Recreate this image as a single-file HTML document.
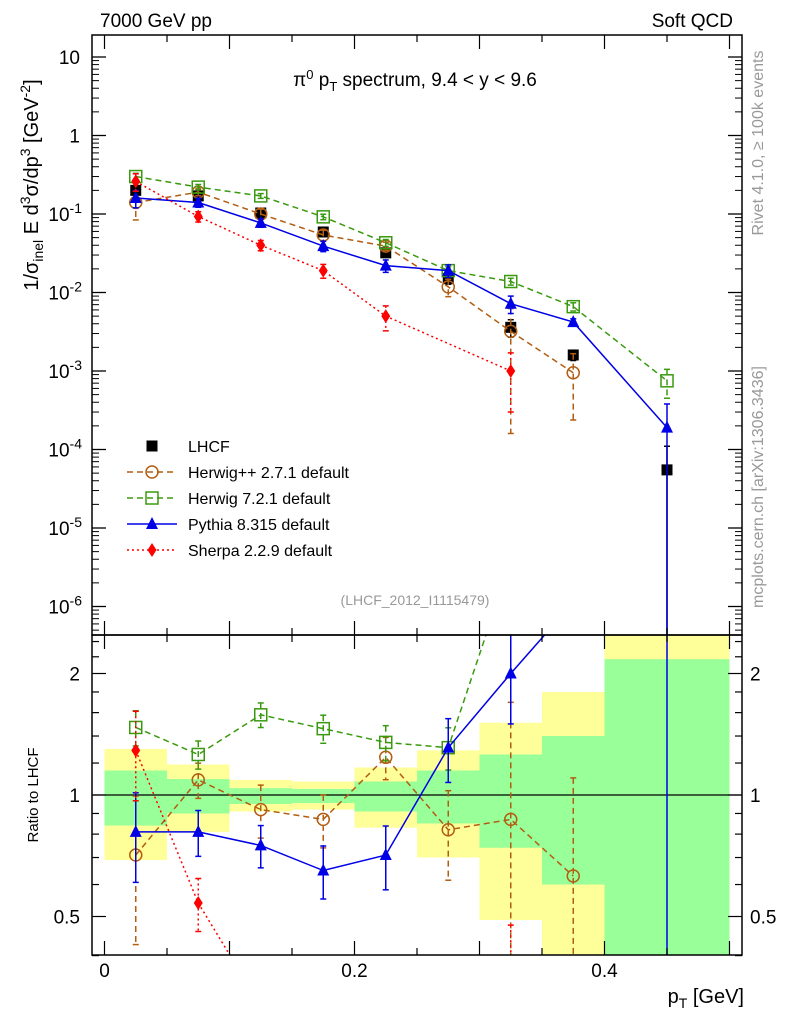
<!DOCTYPE html>
<html><head><meta charset="utf-8"><style>
html,body{margin:0;padding:0;background:#fff;overflow:hidden;width:786px;height:1024px;}
svg{display:block;overflow:hidden;}
svg text{font-family:"Liberation Sans",sans-serif;}
</style></head><body>
<svg id="c" width="786" height="1024" viewBox="0 0 786 1024" xmlns="http://www.w3.org/2000/svg">
<text x="100" y="27" font-size="19">7000 GeV pp</text>
<text x="733" y="27" font-size="19" text-anchor="end">Soft QCD</text>
<text x="415" y="86" font-size="19" text-anchor="middle">π<tspan dy="-7" font-size="13">0</tspan><tspan dy="7"> p</tspan><tspan dy="5" font-size="13">T</tspan><tspan dy="-5"> spectrum, 9.4 &lt; y &lt; 9.6</tspan></text>
<text transform="translate(763,143) rotate(-90)" font-size="16" fill="#999" text-anchor="middle">Rivet 4.1.0, ≥ 100k events</text>
<text transform="translate(763,487) rotate(-90)" font-size="16" fill="#999" text-anchor="middle">mcplots.cern.ch [arXiv:1306.3436]</text>
<text x="415" y="605" font-size="14" fill="#999" text-anchor="middle">(LHCF_2012_I1115479)</text>
<text transform="translate(38,185) rotate(-90)" font-size="20" text-anchor="middle">1/σ<tspan dy="5" font-size="14">inel</tspan><tspan dy="-5"> E d</tspan><tspan dy="-8" font-size="14">3</tspan><tspan dy="8">σ/dp</tspan><tspan dy="-8" font-size="14">3</tspan><tspan dy="8"> [GeV</tspan><tspan dy="-8" font-size="14">-2</tspan><tspan dy="8">]</tspan></text>
<text transform="translate(38,795) rotate(-90)" font-size="15" text-anchor="middle">Ratio to LHCF</text>
<text x="744" y="1003" font-size="20" text-anchor="end">p<tspan dy="5" font-size="14">T</tspan><tspan dy="-5"> [GeV]</tspan></text>
<g id="g"></g>
</svg>
<script>
const xCenters=[0.025,0.075,0.125,0.175,0.225,0.275,0.325,0.375,0.45];
const binEdges=[0,0.05,0.1,0.15,0.2,0.25,0.3,0.35,0.4,0.5];
const lhcf=[0.2,0.17,0.103,0.059,0.032,0.015,0.0036,0.0016,0.000055];
const yellowHi=[1.30,1.19,1.09,1.08,1.17,1.29,1.51,1.80,3.0];
const yellowLo=[0.69,0.81,0.91,0.92,0.83,0.70,0.49,0.3,0.3];
const greenHi=[1.15,1.095,1.04,1.035,1.08,1.15,1.26,1.40,2.17];
const greenLo=[0.84,0.90,0.95,0.955,0.91,0.85,0.74,0.60,0.3];
const herwigpp=[0.14,0.19,0.10,0.054,0.039,0.0118,0.0032,0.00095];
const herwigppRatio=[0.71,1.09,0.92,0.87,1.24,0.82,0.87,0.63];
const herwigppErr=[0.4,0.1,0.15,0.15,0.12,0.25,0.95,0.75];
const herwig7=[0.30,0.22,0.17,0.092,0.043,0.019,0.0138,0.0066,0.00075];
const herwig7Ratio=[1.47,1.26,1.58,1.46,1.35,1.31,3.8,4.1,13.6];
const herwig7Err=[0.1,0.08,0.07,0.08,0.1,0.12,0.1,0.12,0.4];
const pythia=[0.16,0.14,0.077,0.039,0.022,0.019,0.0072,0.0042,0.00019];
const pythiaRatio=[0.81,0.81,0.75,0.65,0.71,1.31,2.0,3.0,3.5];
const pythiaErr=[0.25,0.13,0.12,0.15,0.18,0.18,0.25,0.1,1.0];
const sherpa=[0.26,0.093,0.040,0.019,0.0050,0.00100];
const sherpaX=[0.025,0.075,0.125,0.175,0.225,0.325];
const sherpaRatio=[1.29,0.54,0.3,0.3,0.28,0.28];
const sherpaErr=[0.25,0.15,0.15,0.2,0.35,0.7];
const lhcfErr=[0.1,0.06,0.06,0.08,0.1,0.15,0.25,0.15,1.0];

const NS='http://www.w3.org/2000/svg';
const G=document.getElementById('g');
const L=92,R=742,T=35,M=635,B=955;
const clamp=(y,a,b)=>Math.min(b,Math.max(a,y));
const X=v=>104.5+v*1250;
const YM=v=>clamp(57+(1-Math.log10(Math.max(v,1e-12)))*78.5,T-20,M+2);
const YR=v=>clamp(795-Math.log2(Math.max(v,1e-6))*121.5,M-20,B+2);
function el(t,a,p){const e=document.createElementNS(NS,t);for(const k in a)e.setAttribute(k,a[k]);(p||G).appendChild(e);return e;}
const defs=el('defs',{});
const c1=el('clipPath',{id:'cm'},defs);el('rect',{x:L,y:T,width:R-L,height:M-T},c1);
const c2=el('clipPath',{id:'cr'},defs);el('rect',{x:L,y:M,width:R-L,height:B-M},c2);
const gm=el('g',{'clip-path':'url(#cm)'});


const gr=el('g',{'clip-path':'url(#cr)'});


for(let i=0;i<xCenters.length;i++){
  const x0=X(binEdges[i]),x1=X(binEdges[i+1]);
  const y=el('rect',{x:x0,y:YR(yellowHi[i]),width:x1-x0,height:YR(yellowLo[i])-YR(yellowHi[i]),fill:'#ffff99'},gr);
  
  
  const g=el('rect',{x:x0,y:YR(greenHi[i]),width:x1-x0,height:YR(greenLo[i])-YR(greenHi[i]),fill:'#99ff99'},gr);
  
  
}
el('line',{x1:L,x2:R,y1:YR(1),y2:YR(1),stroke:'#000','stroke-width':1.3},gr);
function marker(p,shape,x,y,col){
  if(shape==='circ')el('circle',{cx:x,cy:y,r:6,fill:'none',stroke:col,'stroke-width':1.5},p);
  else if(shape==='sq')el('rect',{x:x-6,y:y-6,width:12,height:12,fill:'none',stroke:col,'stroke-width':1.5},p);
  else if(shape==='tri')el('polygon',{points:`${x},${y-7} ${x-6},${y+5} ${x+6},${y+5}`,fill:col},p);
  else if(shape==='dia')el('polygon',{points:`${x},${y-7} ${x-4.5},${y} ${x},${y+7} ${x+4.5},${y}`,fill:col},p);
  else if(shape==='fsq')el('rect',{x:x-5.5,y:y-5.5,width:11,height:11,fill:col},p);
}
function series(p,name,xs,vals,errs,Y,col,dash,shape,line,Yraw){
  const grp=el('g',{},p);
  
  
  if(line){
    const pts=xs.slice(0,vals.length).map((x,i)=>X(x)+','+Yraw(vals[i])).join(' ');
    el('polyline',{points:pts,fill:'none',stroke:col,'stroke-width':1.5,'stroke-dasharray':dash},grp);
  }
  vals.forEach((v,i)=>{
    const x=X(xs[i]);const e=errs[i];
    const hi=Y(v*(1+e)),lo=Y(v*(1-e));
    el('line',{x1:x,x2:x,y1:hi,y2:lo,stroke:col,'stroke-width':1.5,'stroke-dasharray':dash},grp);
    el('line',{x1:x-3,x2:x+3,y1:hi,y2:hi,stroke:col,'stroke-width':1.5},grp);
    el('line',{x1:x-3,x2:x+3,y1:lo,y2:lo,stroke:col,'stroke-width':1.5},grp);
    marker(grp,shape,x,Yraw(v),col);
  });
}
const YMraw=v=>57+(1-Math.log10(v))*78.5;
const YRraw=v=>795-Math.log2(v)*121.5;
series(gm,'lhcf-data',xCenters,lhcf,lhcfErr,YM,'#000','none','fsq',false,YMraw);
series(gm,'herwigpp-series',xCenters,herwigpp,herwigppErr,YM,'#b25d12','6,4','circ',true,YMraw);
series(gm,'herwig7-series',xCenters,herwig7,herwig7Err,YM,'#3a9a0f','6,4','sq',true,YMraw);
series(gm,'pythia-series',xCenters,pythia,pythiaErr,YM,'#0000e6','none','tri',true,YMraw);
series(gm,'sherpa-series',sherpaX,sherpa,sherpaErr,YM,'#f00','2,3','dia',true,YMraw);
series(gr,'herwigpp-ratio',xCenters,herwigppRatio,herwigppErr,YR,'#b25d12','6,4','circ',true,YRraw);
series(gr,'herwig7-ratio',xCenters,herwig7Ratio,herwig7Err,YR,'#3a9a0f','6,4','sq',true,YRraw);
series(gr,'pythia-ratio',xCenters,pythiaRatio,pythiaErr,YR,'#0000e6','none','tri',true,YRraw);
series(gr,'sherpa-ratio',sherpaX,sherpaRatio,sherpaErr,YR,'#f00','2,3','dia',true,YRraw);
el('rect',{x:L,y:T,width:R-L,height:M-T,fill:'none',stroke:'#000','stroke-width':1.5});
el('rect',{x:L,y:M,width:R-L,height:B-M,fill:'none',stroke:'#000','stroke-width':1.5});
const mainTickLabels=['10','1','10^-1','10^-2','10^-3','10^-4','10^-5','10^-6'];
const mainTickVals=[10,1,0.1,0.01,0.001,1e-4,1e-5,1e-6];
mainTickVals.forEach((v,i)=>{
  const y=YMraw(v);
  [[L,L+14],[R,R-14]].forEach(a=>el('line',{x1:a[0],x2:a[1],y1:y,y2:y,stroke:'#000','stroke-width':1.3}));
  for(let k=2;k<10;k++){const yy=YMraw(v*k/10);if(yy>T&&yy<M){[[L,L+7],[R,R-7]].forEach(a=>el('line',{x1:a[0],x2:a[1],y1:yy,y2:yy,stroke:'#000','stroke-width':1}));}}
  const lab=mainTickLabels[i];const t=el('text',{x:80,y:y+7,'font-size':19,'text-anchor':'end'});
  
  
  if(lab.includes('^')){const [b,e]=lab.split('^');t.textContent=b;const s=el('tspan',{dy:-8,'font-size':14},t);s.textContent=e;t.setAttribute('x',82);}
  else t.textContent=lab;
});
const ratioTickVals=[0.5,1,2];
const ratioTickLabels=['0.5','1','2'];
[0.4,0.5,0.6,0.7,0.8,0.9,1,1.2,1.4,1.6,1.8,2,2.2,2.4].forEach(v=>{const y=YRraw(v);const big=[0.5,1,2].includes(v);
  [[L,L+(big?14:7)],[R,R-(big?14:7)]].forEach(a=>el('line',{x1:a[0],x2:a[1],y1:y,y2:y,stroke:'#000','stroke-width':1.2}));});
ratioTickVals.forEach((v,i)=>{
  const t=el('text',{x:80,y:YRraw(v)+7,'font-size':19,'text-anchor':'end'});t.textContent=ratioTickLabels[i];
  
  
  const t2=el('text',{x:750,y:YRraw(v)+7,'font-size':19});t2.textContent=ratioTickLabels[i];
  
  
});
const xTickVals=[0,0.2,0.4];
for(let v=0;v<=0.5001;v+=0.05){const x=X(v);const big=Math.abs(v*10-Math.round(v*10))<1e-6;const len=big?14:7;
  [[T,T+len],[M,M-len],[M,M+len],[B,B-len]].forEach(a=>el('line',{x1:x,x2:x,y1:a[0],y2:a[1],stroke:'#000','stroke-width':1.2}));}
xTickVals.forEach(v=>{const t=el('text',{x:X(v),y:977,'font-size':19,'text-anchor':'middle'});t.textContent=v===0?'0':String(v);
  
  });
const legNames=['LHCF','Herwig++ 2.7.1 default','Herwig 7.2.1 default','Pythia 8.315 default','Sherpa 2.2.9 default'];
const legCols=['#000','#b25d12','#3a9a0f','#0000e6','#f00'];
const legShapes=['fsq','circ','sq','tri','dia'];
const legDash=['none','6,4','6,4','none','2,3'];
legNames.forEach((n,i)=>{
  const y=446+i*26;const lg=el('g',{});
  
  
  if(i>0){el('line',{x1:127,x2:177,y1:y,y2:y,stroke:legCols[i],'stroke-width':1.5,'stroke-dasharray':legDash[i]},lg);}
  marker(lg,legShapes[i],152,y,legCols[i]);
  const t=el('text',{x:188,y:y+6,'font-size':16},lg);t.textContent=n;
});
</script>
</body></html>
